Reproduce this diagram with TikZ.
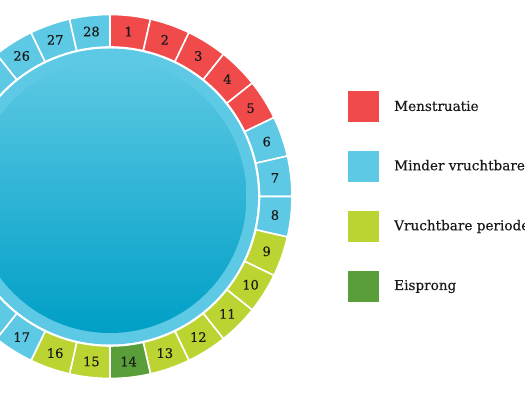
\documentclass[tikz,border=0pt]{standalone}
\usepackage{fontspec}
\setmainfont[FakeBold=0.4]{DejaVu Serif}
\usetikzlibrary{calc}
\definecolor{cred}{HTML}{F04A4B}
\definecolor{cblue}{HTML}{5DC9E4}
\definecolor{clime}{HTML}{BBD432}
\definecolor{cgreen}{HTML}{5A9E3A}
\definecolor{cdark}{HTML}{009FC6}
\definecolor{ctext}{HTML}{1A1A1A}
\tikzset{
  seg/.style={draw=white, line width=1.6pt},
  num/.style={font=\fontsize{13}{15}\selectfont, inner sep=0pt, text=ctext},
  legbox/.style={minimum width=31pt, minimum height=31pt, inner sep=0pt},
  legtext/.style={anchor=west, font=\fontsize{13.6}{16}\selectfont, inner sep=0pt, text=ctext}
}
\begin{document}
\begin{tikzpicture}[x=1pt,y=1pt]
\useasboundingbox (0,0) rectangle (525,395);
\clip (0,0) rectangle (525,395);
\coordinate (c) at (110,198.5);
% inner ring and disk
\fill[cblue] (c) circle (148);
\shade[top color=cblue, bottom color=cdark] (c) circle (136.5);
% segments
\foreach \k in {1,...,28} {
  \pgfmathsetmacro{\aa}{90-(\k-1)*360/28}
  \pgfmathsetmacro{\ab}{90-\k*360/28}
  \pgfmathsetmacro{\am}{90-(\k-0.5)*360/28}
  \ifnum\k<6 \def\col{cred}\else
  \ifnum\k<9 \def\col{cblue}\else
  \ifnum\k<14 \def\col{clime}\else
  \ifnum\k=14 \def\col{cgreen}\else
  \ifnum\k<17 \def\col{clime}\else
  \def\col{cblue}\fi\fi\fi\fi\fi
  \filldraw[seg, fill=\col] ($(c)+(\aa:149.5)$) arc[start angle=\aa, end angle=\ab, radius=149.5]
     -- ($(c)+(\ab:182)$) arc[start angle=\ab, end angle=\aa, radius=182] -- cycle;
  \node[num] (n\k) at ($(c)+(\am:166)$) {\k};
}
% legend
\node[legbox, fill=cred] (l1) at (363.5,288.5) {};
\node[legbox, fill=cblue] (l2) at (363.5,228) {};
\node[legbox, fill=clime] (l3) at (363.5,168) {};
\node[legbox, fill=cgreen] (l4) at (363.5,108) {};
\node[legtext] (t1) at (394,289) {Menstruatie};
\node[legtext] (t2) at (394,228.5) {Minder vruchtbare periode};
\node[legtext] (t3) at (394,168.5) {Vruchtbare periode};
\node[legtext] (t4) at (394,108.5) {Eisprong};
\end{tikzpicture}
\end{document}
